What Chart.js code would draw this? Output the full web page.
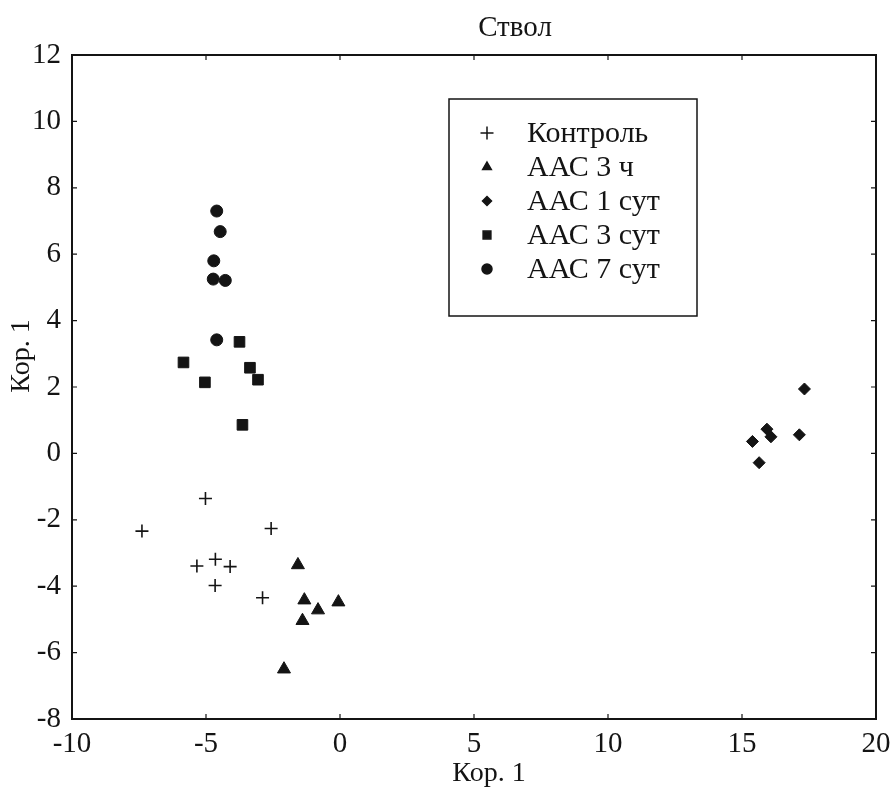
<!DOCTYPE html>
<html>
<head>
<meta charset="utf-8">
<script src="https://cdn.jsdelivr.net/npm/chart.js@4/dist/chart.umd.min.js"></script>
<style>
html,body{margin:0;padding:0;background:#fff;}
#wrap{width:893px;height:792px;}
</style>
</head>
<body>
<div id="wrap"><canvas id="c" width="893" height="792"></canvas></div>
<script>
// ---- data ----
const seriesNames = ["Контроль", "ААС 3 ч", "ААС 1 сут", "ААС 3 сут", "ААС 7 сут"];
const controlX = [-5.02, -7.39, -2.57, -5.34, -4.65, -4.10, -4.66, -2.89];
const controlY = [-1.36, -2.34, -2.26, -3.39, -3.19, -3.41, -3.98, -4.35];
const h3X = [-1.57, -1.33, -0.82, -0.06, -1.40, -2.09];
const h3Y = [-3.36, -4.42, -4.72, -4.48, -5.04, -6.50];
const d1X = [17.33, 15.93, 16.08, 17.14, 15.39, 15.64];
const d1Y = [1.94, 0.73, 0.50, 0.56, 0.36, -0.28];
const d3X = [-3.75, -5.84, -3.36, -3.06, -5.04, -3.64];
const d3Y = [3.36, 2.74, 2.58, 2.22, 2.14, 0.86];
const d7X = [-4.60, -4.47, -4.71, -4.73, -4.28, -4.60];
const d7Y = [7.30, 6.68, 5.80, 5.25, 5.21, 3.42];
const xTicks = [-10, -5, 0, 5, 10, 15, 20];
const yTicks = [-8, -6, -4, -2, 0, 2, 4, 6, 8, 10, 12];
const titleText = "Ствол";
const xTitle = "Кор. 1";
const yTitle = "Кор. 1";

const INK = "#141414";
const FONT = "'Liberation Serif', 'DejaVu Serif', serif";
function pts(xs, ys){ return xs.map((x,i)=>({x:x, y:ys[i]})); }

const styles = [
  {pointStyle:'cross', radius:6.5, borderWidth:1.6, legendRadius:6.5},
  {pointStyle:'triangle', radius:7.5, borderWidth:1, legendRadius:5},
  {pointStyle:'rectRot', radius:6, borderWidth:1, legendRadius:4.5},
  {pointStyle:'rect', radius:7.5, borderWidth:1, legendRadius:5.5},
  {pointStyle:'circle', radius:6, borderWidth:1, legendRadius:5}
];
const dataSets = [pts(controlX, controlY), pts(h3X,h3Y), pts(d1X,d1Y), pts(d3X,d3Y), pts(d7X,d7Y)];

const decor = {
  id:'decor',
  afterDraw(chart){
    const ctx = chart.ctx, a = chart.chartArea;
    const xs = chart.scales.x, ys = chart.scales.y;
    ctx.save();
    ctx.strokeStyle = INK; ctx.lineWidth = 2;
    ctx.strokeRect(a.left, a.top, a.right-a.left, a.bottom-a.top);
    ctx.lineWidth = 1.2;
    xTicks.forEach(v=>{
      const p = xs.getPixelForValue(v);
      ctx.beginPath(); ctx.moveTo(p, a.bottom); ctx.lineTo(p, a.bottom-5);
      ctx.moveTo(p, a.top); ctx.lineTo(p, a.top+5); ctx.stroke();
    });
    yTicks.forEach(v=>{
      const p = ys.getPixelForValue(v);
      ctx.beginPath(); ctx.moveTo(a.left, p); ctx.lineTo(a.left+5, p);
      ctx.moveTo(a.right, p); ctx.lineTo(a.right-5, p); ctx.stroke();
    });
    // titles
    ctx.fillStyle = INK;
    ctx.font = "29px " + FONT;
    ctx.textAlign = 'center'; ctx.textBaseline = 'alphabetic';
    ctx.fillText(titleText, 515, 36);
    ctx.font = "28px " + FONT;
    ctx.fillText(xTitle, 489, 781);
    ctx.save();
    ctx.translate(29, 356); ctx.rotate(-Math.PI/2);
    ctx.fillText(yTitle, 0, 0);
    ctx.restore();
    // legend
    const L = {x:449, y:99, w:248, h:217};
    ctx.lineWidth = 1.5;
    ctx.strokeRect(L.x, L.y, L.w, L.h);
    chart.data.datasets.forEach((ds,i)=>{
      const cy = 133 + i*34;
      ctx.fillStyle = INK; ctx.strokeStyle = INK;
      Chart.helpers.drawPoint(ctx, {pointStyle: ds.pointStyle, rotation:0, radius: styles[i].legendRadius, borderWidth: ds.borderWidth}, 487, cy);
      ctx.fillStyle = INK;
      ctx.font = "30px " + FONT;
      ctx.textAlign = 'left'; ctx.textBaseline = 'middle';
      ctx.fillText(ds.label, 527, cy+1);
    });
    ctx.restore();
  }
};

new Chart(document.getElementById('c'), {
  type:'scatter',
  data:{
    datasets: dataSets.map((d,i)=>({
      label: seriesNames[i],
      data: d,
      pointStyle: styles[i].pointStyle,
      pointRadius: styles[i].radius,
      pointHoverRadius: styles[i].radius,
      borderWidth: styles[i].borderWidth,
      backgroundColor: INK,
      borderColor: INK
    }))
  },
  options:{
    responsive:false,
    animation:false,
    devicePixelRatio:1,
    layout:{padding:{left:0, right:17, top:55, bottom:0}},
    plugins:{legend:{display:false}, title:{display:false}, tooltip:{enabled:false}},
    scales:{
      x:{
        type:'linear', min:-10, max:20,
        afterBuildTicks(s){ s.ticks = xTicks.map(v=>({value:v})); },
        afterFit(s){ s.height = 73; s.paddingLeft = 0; s.paddingRight = 0; },
        grid:{display:false, drawTicks:false}, border:{display:false},
        ticks:{font:{family:FONT, size:29}, color:INK, padding:8, maxRotation:0}
      },
      y:{
        type:'linear', min:-8, max:12,
        afterBuildTicks(s){ s.ticks = yTicks.map(v=>({value:v})); },
        afterFit(s){ s.width = 72; s.paddingTop = 0; s.paddingBottom = 0; },
        grid:{display:false, drawTicks:false}, border:{display:false},
        ticks:{font:{family:FONT, size:29}, color:INK, padding:11}
      }
    }
  },
  plugins:[decor]
});
</script>
</body>
</html>
